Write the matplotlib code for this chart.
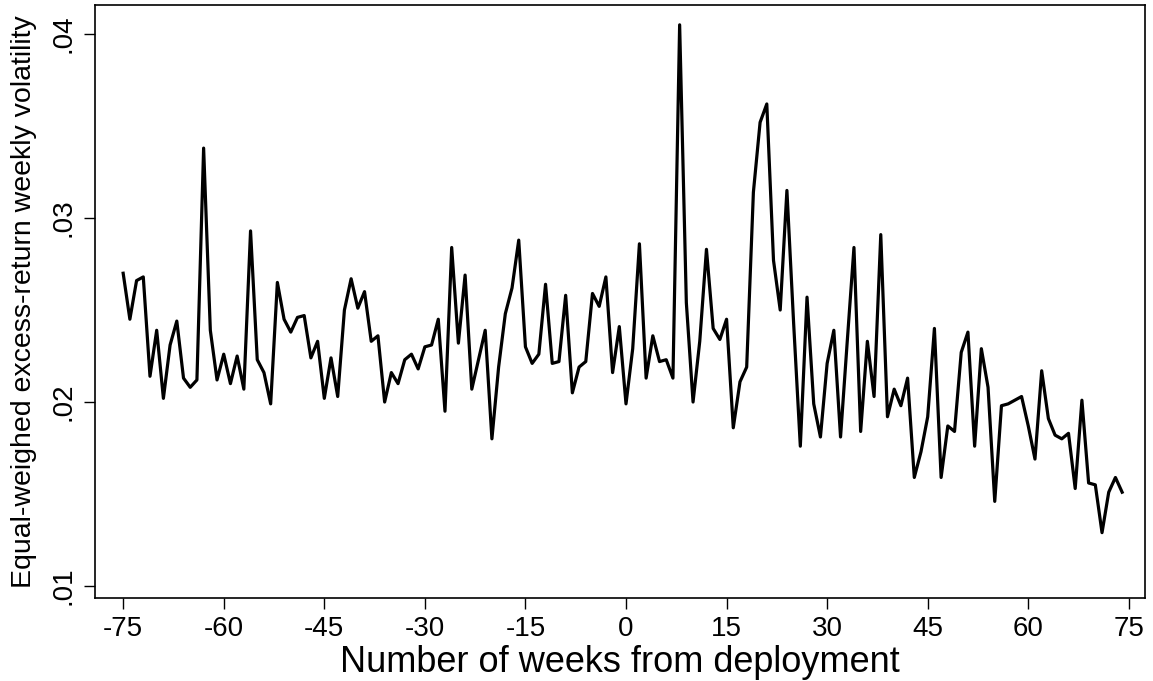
import matplotlib
matplotlib.use("Agg")
import matplotlib.pyplot as plt
import numpy as np

plt.rcParams['font.family'] = ['Liberation Sans', 'DejaVu Sans']

# weeks relative to deployment, -75 .. 74
weeks = np.arange(-75, 75)

# equal-weighed excess-return weekly volatility
volatility = [
    .0270, .0245, .0266, .0268, .0214, .0239, .0202, .0231, .0244, .0213,   # -75..-66
    .0208, .0212, .0338, .0239, .0212, .0226, .0210, .0225, .0207, .0293,   # -65..-56
    .0223, .0216, .0199, .0265, .0245, .0238, .0246, .0247, .0224, .0233,   # -55..-46
    .0202, .0224, .0203, .0250, .0267, .0251, .0260, .0233, .0236, .0200,   # -45..-36
    .0216, .0210, .0223, .0226, .0218, .0230, .0231, .0245, .0195, .0284,   # -35..-26
    .0232, .0269, .0207, .0223, .0239, .0180, .0219, .0248, .0262, .0288,   # -25..-16
    .0230, .0221, .0226, .0264, .0221, .0222, .0258, .0205, .0219, .0222,   # -15..-6
    .0259, .0252, .0268, .0216, .0241, .0199, .0229, .0286, .0213, .0236,   # -5..4
    .0222, .0223, .0213, .0405, .0254, .0200, .0233, .0283, .0240, .0234,   # 5..14
    .0245, .0186, .0211, .0219, .0314, .0352, .0362, .0277, .0250, .0315,   # 15..24
    .0243, .0176, .0257, .0199, .0181, .0221, .0239, .0181, .0233, .0284,   # 25..34
    .0184, .0233, .0203, .0291, .0192, .0207, .0198, .0213, .0159, .0173,   # 35..44
    .0192, .0240, .0159, .0187, .0184, .0227, .0238, .0176, .0229, .0208,   # 45..54
    .0146, .0198, .0199, .0201, .0203, .0187, .0169, .0217, .0191, .0182,   # 55..64
    .0180, .0183, .0153, .0201, .0156, .0155, .0129, .0151, .0159, .0151,   # 65..74
]

x_ticks = np.arange(-75, 76, 15)
y_ticks = [.01, .02, .03, .04]
y_ticklabels = ['.01', '.02', '.03', '.04']

fig = plt.figure(figsize=(11.53, 6.81), dpi=100)
ax = fig.add_axes([0.0824, 0.1219, 0.9106, 0.8708])

ax.plot(weeks, volatility, color='black', linewidth=2.3)

ax.set_xlim(-79.2, 77.4)
ax.set_ylim(0.00935, 0.04158)

ax.set_xticks(x_ticks)
ax.set_xticklabels([str(t) for t in x_ticks], fontsize=20)
ax.set_yticks(y_ticks)
ax.set_yticklabels(y_ticklabels, fontsize=20, rotation=90, va='center')

ax.tick_params(axis='both', direction='out', length=8, width=1, color='black')
ax.tick_params(axis='x', pad=5)
ax.tick_params(axis='y', pad=5)

for s in ax.spines.values():
    s.set_linewidth(1.2)
    s.set_color('black')

ax.set_xlabel('Number of weeks from deployment', fontsize=26, labelpad=2)
ax.set_ylabel('Equal-weighed excess-return weekly volatility', fontsize=20.5, labelpad=10)

fig.savefig('out.png', dpi=100, facecolor='white')
